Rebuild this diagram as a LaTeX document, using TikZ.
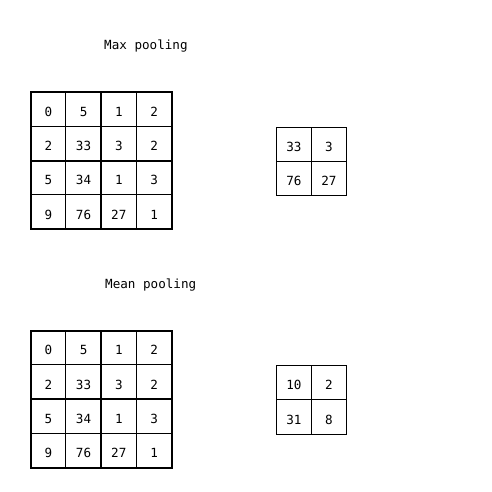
\documentclass[tikz,border=0pt]{standalone}
\usepackage{fontspec}
\setmainfont{DejaVu Sans Mono}
\usetikzlibrary{positioning}

\begin{document}
\begin{tikzpicture}[x=1pt, y=-1pt,
  thinline/.style={line width=1pt},
  thickline/.style={line width=2pt},
  val/.style={font=\fontsize{12.6}{14}\selectfont, inner sep=0pt, anchor=base},
  title/.style={font=\fontsize{12.6}{14}\selectfont, anchor=base west, inner sep=0pt}]
\useasboundingbox (0,0) rectangle (492,491);

\node (maxtitle) [title] at (104,49) {Max pooling};
\node (meantitle) [title] at (105,288.3) {Mean pooling};

% input grids
\foreach \oy/\tag in {92.3/max, 330.7/mean} {
  \foreach \k in {1,3} {
    \draw[thinline] (30.7+\k*35.25,\oy) -- ++(0,136.8);
    \draw[thinline] (30.7,\oy+\k*34.2) -- ++(141,0);
  }
  \draw[thickline] (101.2,\oy) -- ++(0,136.8);
  \draw[thickline] (30.7,\oy+68.4) -- ++(141,0);
  \draw[thickline] (30.7,\oy) rectangle ++(141,136.8);
  \foreach \v [count=\i from 0] in {0,5,1,2,2,33,3,2,5,34,1,3,9,76,27,1} {
    \pgfmathtruncatemacro\c{mod(\i,4)}
    \pgfmathtruncatemacro\r{int(\i/4)}
    \node (\tag-in-\r-\c) [val] at (48.3+\c*35.25, \oy+24.2+\r*34.2) {\v};
  }
}

% pooled grids
\foreach \oy/\tag/\vals in {127.3/max/{33,3,76,27}, 365.7/mean/{10,2,31,8}} {
  \draw[thinline] (276.3,\oy) rectangle ++(70.2,68.4);
  \draw[thinline] (311.4,\oy) -- ++(0,68.4);
  \draw[thinline] (276.3,\oy+34.2) -- ++(70.2,0);
  \foreach \v [count=\i from 0] in \vals {
    \pgfmathtruncatemacro\c{mod(\i,2)}
    \pgfmathtruncatemacro\r{int(\i/2)}
    \node (\tag-out-\r-\c) [val] at (293.85+\c*35.1, \oy+24.2+\r*34.2) {\v};
  }
}
\end{tikzpicture}
\end{document}
